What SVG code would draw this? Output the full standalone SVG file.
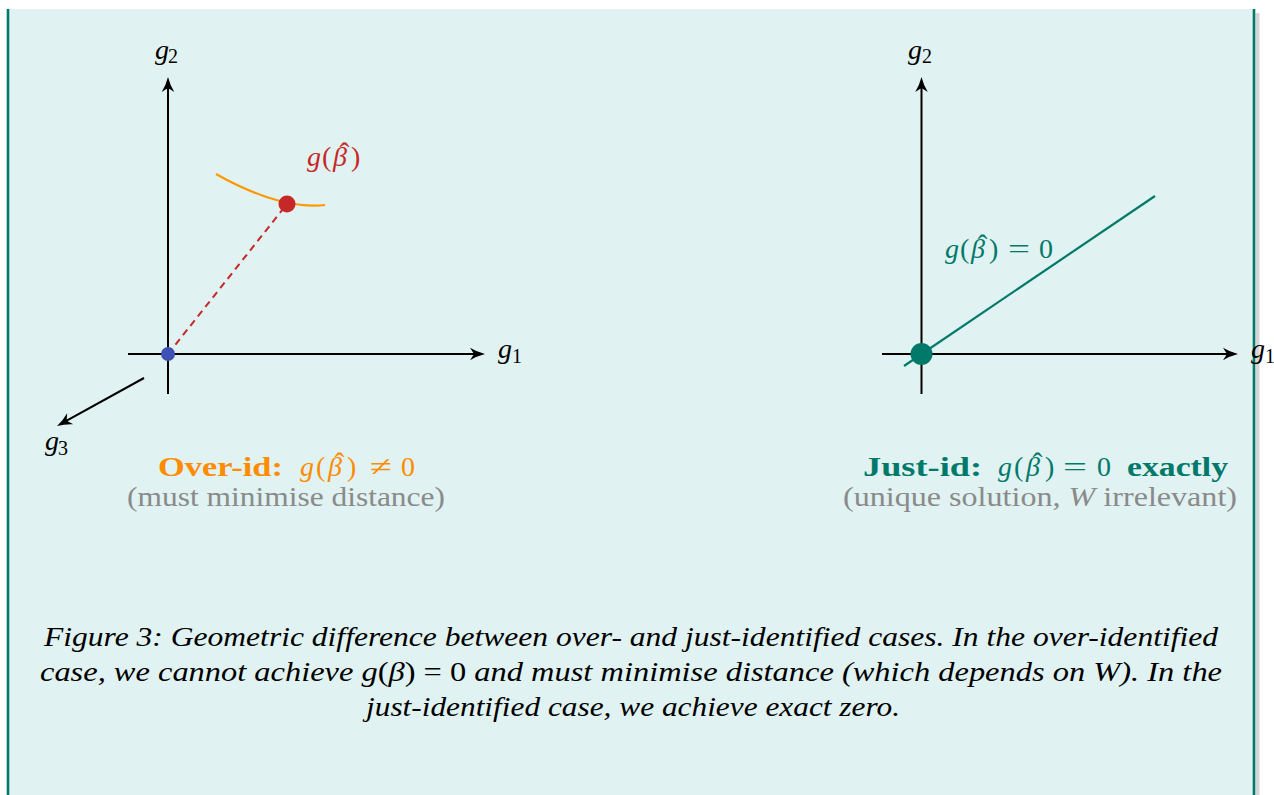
<svg xmlns="http://www.w3.org/2000/svg" width="1274" height="795" viewBox="0 0 1274 795">
<style>
.t{font-family:'Liberation Serif','DejaVu Serif',serif;font-size:28px}
.i{font-style:italic}
.n{font-style:normal}
.b{font-weight:bold}
.h{font-size:30px;font-style:normal}
.sub{font-family:'Liberation Serif','DejaVu Serif',serif;font-size:20px}
.axis{stroke:#000;stroke-width:2;fill:none}
.k{fill:#000}
.red{fill:#c62828}
.org{fill:#ff8c00}
.teal{fill:#00796b}
.gray{fill:#8a8a8a}
</style>
<defs>
<marker id="arr" markerUnits="userSpaceOnUse" viewBox="-7 -7 18 14" refX="0" refY="0" markerWidth="18" markerHeight="14" orient="auto">
<path d="M10,0 Q2,-2 -5,-6.3 L-1,0 L-5,6.3 Q2,2 10,0 Z" fill="#000"/>
</marker>
</defs>
<g id="panel">
<rect x="1255.5" y="13" width="4" height="782" fill="#d6d6d6"/>
<rect x="8" y="9" width="1246" height="790" fill="#e0f2f1"/>
<line x1="8" y1="9" x2="8" y2="795" stroke="#00796b" stroke-width="2.6"/>
<line x1="1254" y1="9" x2="1254" y2="795" stroke="#00796b" stroke-width="2.6"/>
</g>
<g id="connectors">
<line class="axis" x1="168" y1="394" x2="168" y2="87" marker-end="url(#arr)"/>
<line class="axis" x1="128" y1="354" x2="475" y2="354" marker-end="url(#arr)"/>
<line class="axis" x1="144" y1="378" x2="65.8" y2="421.2" marker-end="url(#arr)"/>
<line class="axis" x1="921.5" y1="394" x2="921.5" y2="87" marker-end="url(#arr)"/>
<line class="axis" x1="882" y1="354" x2="1228" y2="354" marker-end="url(#arr)"/>
<line x1="168" y1="354" x2="287" y2="204" stroke="#c62828" stroke-width="2" stroke-dasharray="7,5"/>
</g>
<g id="over-id-plot">
<path d="M216,174 Q280,210 325,205" fill="none" stroke="#ff9800" stroke-width="2.2"/>
<circle cx="287" cy="204" r="8.5" fill="#c62828"/>
<circle cx="168" cy="354" r="7" fill="#3f51b5"/>
<text class="t i k" x="155" y="59">g</text><text class="sub k" x="168" y="63">2</text>
<text class="t i k" x="498" y="358">g</text><text class="sub k" x="512" y="363">1</text>
<text class="t i k" x="45" y="450">g</text><text class="sub k" x="58" y="455">3</text>
<text id="label-g-beta-hat" class="t red" y="166"><tspan class="i" x="307">g</tspan><tspan x="322">(</tspan><tspan class="i" x="333">β</tspan><tspan class="h" x="339.5" dy="-3">ˆ</tspan><tspan x="351" dy="3">)</tspan></text>
</g>
<g id="just-id-plot">
<line x1="904" y1="366" x2="1155" y2="196" stroke="#00796b" stroke-width="2.2"/>
<circle cx="921.5" cy="354" r="11" fill="#00796b"/>
<text class="t i k" x="908" y="59">g</text><text class="sub k" x="922" y="63">2</text>
<text class="t i k" x="1251" y="358">g</text><text class="sub k" x="1265" y="363">1</text>
<g id="label-just-line" class="teal">
<text class="t" y="258"><tspan class="i" x="945">g</tspan><tspan x="960">(</tspan><tspan class="i" x="971">β</tspan><tspan class="h" x="977.5" dy="-3">ˆ</tspan><tspan x="989" dy="3">)</tspan></text>
<text class="t" x="1008" y="258" textLength="22" lengthAdjust="spacingAndGlyphs">=</text>
<text class="t" x="1039" y="258">0</text>
</g>
</g>
<g id="over-id-caption">
<text class="t b org" x="158" y="476" textLength="125" lengthAdjust="spacingAndGlyphs">Over-id:</text>
<text class="t org" y="476"><tspan class="i" x="300">g</tspan><tspan x="316">(</tspan><tspan class="i" x="328">β</tspan><tspan class="h" x="334.5" dy="-3">ˆ</tspan><tspan x="347" dy="3">)</tspan></text>
<text class="t org" x="370" y="476" textLength="22" lengthAdjust="spacingAndGlyphs">≠</text>
<text class="t org" x="401" y="476">0</text>
<text class="t gray" x="127" y="506" textLength="318" lengthAdjust="spacingAndGlyphs">(must minimise distance)</text>
</g>
<g id="just-id-caption">
<text class="t b teal" x="863" y="476" textLength="119" lengthAdjust="spacingAndGlyphs">Just-id:</text>
<text class="t teal" y="476"><tspan class="i" x="998">g</tspan><tspan x="1014">(</tspan><tspan class="i" x="1026">β</tspan><tspan class="h" x="1032.5" dy="-3">ˆ</tspan><tspan x="1045" dy="3">)</tspan></text>
<text class="t teal" x="1063" y="476" textLength="24" lengthAdjust="spacingAndGlyphs">=</text>
<text class="t teal" x="1097" y="476">0</text>
<text class="t b teal" x="1127" y="476" textLength="101" lengthAdjust="spacingAndGlyphs">exactly</text>
<text class="t gray" x="843" y="506" textLength="394" lengthAdjust="spacingAndGlyphs">(unique solution, <tspan class="i">W</tspan> irrelevant)</text>
</g>
<g id="figure-caption" class="k">
<text class="t i" x="44" y="646" textLength="1174" lengthAdjust="spacingAndGlyphs">Figure 3: Geometric difference between over- and just-identified cases. In the over-identified</text>
<text class="t i" x="40" y="681" textLength="1182" lengthAdjust="spacingAndGlyphs">case, we cannot achieve g<tspan class="n">(</tspan>β<tspan class="n">) = 0</tspan> and must minimise distance (which depends on W). In the</text>
<text class="t i" x="366" y="716" textLength="534" lengthAdjust="spacingAndGlyphs">just-identified case, we achieve exact zero.</text>
</g>
</svg>
